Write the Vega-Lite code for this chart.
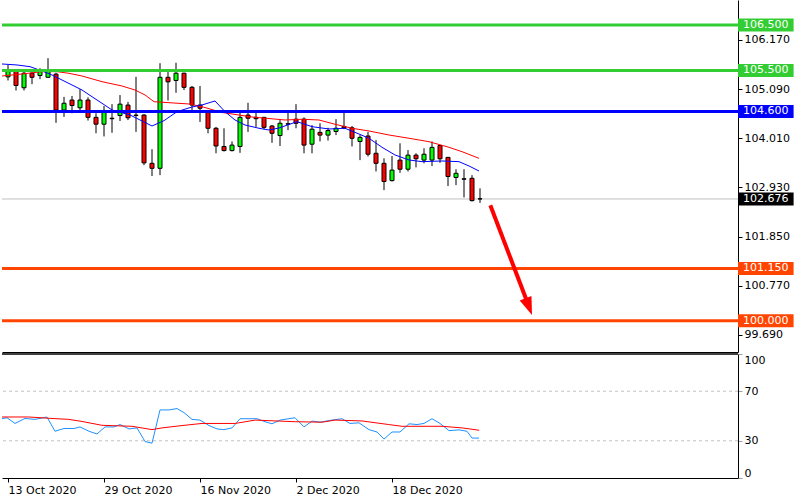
{
  "$schema": "https://vega.github.io/schema/vega-lite/v6.json",
  "padding": 0,
  "background": "white",
  "bounds": "flush",
  "spacing": 2,
  "config": {
    "view": {"stroke": null},
    "scale": {"continuousPadding": 0},
    "axis": {"grid": false, "labelFont": "DejaVu Sans", "labelFontSize": 11, "labelColor": "#000000", "domainColor": "#000000", "tickColor": "#000000", "title": null}
  },
  "datasets": {
    "candles": [
      {"i":0,"o":105.36,"h":105.62,"l":105.28,"c":105.49},
      {"i":1,"o":105.49,"h":105.51,"l":105.06,"c":105.17},
      {"i":2,"o":105.12,"h":105.49,"l":105.06,"c":105.44},
      {"i":3,"o":105.44,"h":105.49,"l":105.20,"c":105.35},
      {"i":4,"o":105.39,"h":105.55,"l":105.31,"c":105.49},
      {"i":5,"o":105.35,"h":105.77,"l":105.35,"c":105.49},
      {"i":6,"o":105.42,"h":105.45,"l":104.35,"c":104.63},
      {"i":7,"o":104.63,"h":104.92,"l":104.48,"c":104.78},
      {"i":8,"o":104.85,"h":104.94,"l":104.56,"c":104.73},
      {"i":9,"o":104.68,"h":105.09,"l":104.63,"c":104.85},
      {"i":10,"o":104.85,"h":104.91,"l":104.40,"c":104.47},
      {"i":11,"o":104.47,"h":104.56,"l":104.12,"c":104.32},
      {"i":12,"o":104.32,"h":104.72,"l":104.05,"c":104.62},
      {"i":13,"o":104.45,"h":104.76,"l":104.13,"c":104.44},
      {"i":14,"o":104.51,"h":104.96,"l":104.39,"c":104.76},
      {"i":15,"o":104.74,"h":104.81,"l":104.41,"c":104.46},
      {"i":16,"o":104.52,"h":105.36,"l":104.15,"c":104.51},
      {"i":17,"o":104.52,"h":104.54,"l":103.42,"c":103.47},
      {"i":18,"o":103.46,"h":103.77,"l":103.18,"c":103.35},
      {"i":19,"o":103.35,"h":105.66,"l":103.20,"c":105.35},
      {"i":20,"o":105.35,"h":105.47,"l":104.84,"c":105.25},
      {"i":21,"o":105.28,"h":105.67,"l":105.01,"c":105.44},
      {"i":22,"o":105.44,"h":105.45,"l":105.07,"c":105.13},
      {"i":23,"o":105.13,"h":105.16,"l":104.59,"c":104.74},
      {"i":24,"o":104.74,"h":105.16,"l":104.37,"c":104.67},
      {"i":25,"o":104.61,"h":104.63,"l":104.12,"c":104.23},
      {"i":26,"o":104.23,"h":104.26,"l":103.68,"c":103.84},
      {"i":27,"o":103.83,"h":104.23,"l":103.72,"c":103.74},
      {"i":28,"o":103.74,"h":103.94,"l":103.72,"c":103.86},
      {"i":29,"o":103.83,"h":104.59,"l":103.69,"c":104.47},
      {"i":30,"o":104.52,"h":104.79,"l":104.15,"c":104.45},
      {"i":31,"o":104.47,"h":104.59,"l":104.26,"c":104.44},
      {"i":32,"o":104.47,"h":104.48,"l":104.21,"c":104.25},
      {"i":33,"o":104.28,"h":104.30,"l":103.91,"c":104.12},
      {"i":34,"o":104.07,"h":104.41,"l":103.84,"c":104.34},
      {"i":35,"o":104.33,"h":104.59,"l":104.19,"c":104.32},
      {"i":36,"o":104.43,"h":104.76,"l":104.23,"c":104.34},
      {"i":37,"o":104.43,"h":104.47,"l":103.68,"c":103.86},
      {"i":38,"o":103.88,"h":104.30,"l":103.68,"c":104.21},
      {"i":39,"o":104.14,"h":104.34,"l":103.94,"c":104.08},
      {"i":40,"o":104.08,"h":104.24,"l":103.96,"c":104.18},
      {"i":41,"o":104.16,"h":104.43,"l":104.08,"c":104.23},
      {"i":42,"o":104.27,"h":104.59,"l":104.21,"c":104.24},
      {"i":43,"o":104.24,"h":104.28,"l":103.83,"c":104.01},
      {"i":44,"o":103.94,"h":104.08,"l":103.53,"c":104.03},
      {"i":45,"o":104.06,"h":104.15,"l":103.61,"c":103.66},
      {"i":46,"o":103.68,"h":103.97,"l":103.28,"c":103.46},
      {"i":47,"o":103.46,"h":103.57,"l":102.87,"c":103.06},
      {"i":48,"o":103.08,"h":103.62,"l":103.06,"c":103.31},
      {"i":49,"o":103.53,"h":103.90,"l":103.25,"c":103.33},
      {"i":50,"o":103.33,"h":103.75,"l":103.28,"c":103.64},
      {"i":51,"o":103.64,"h":103.68,"l":103.37,"c":103.56},
      {"i":52,"o":103.53,"h":103.79,"l":103.46,"c":103.66},
      {"i":53,"o":103.53,"h":103.94,"l":103.40,"c":103.81},
      {"i":54,"o":103.85,"h":103.86,"l":103.47,"c":103.56},
      {"i":55,"o":103.59,"h":103.60,"l":102.96,"c":103.17},
      {"i":56,"o":103.15,"h":103.33,"l":102.98,"c":103.24},
      {"i":57,"o":103.12,"h":103.33,"l":102.71,"c":103.11},
      {"i":58,"o":103.13,"h":103.20,"l":102.62,"c":102.64},
      {"i":59,"o":102.68,"h":102.91,"l":102.59,"c":102.676}
    ],
    "maFast": [
      {"i":-0.75,"v":105.643},{"i":1.125,"v":105.621},{"i":2.75,"v":105.584},{"i":4.25,"v":105.489},
      {"i":5.5,"v":105.401},{"i":6.75,"v":105.291},{"i":8,"v":105.181},{"i":9.25,"v":105.071},
      {"i":10.5,"v":104.924},{"i":11.75,"v":104.779},{"i":13,"v":104.632},{"i":15.25,"v":104.522},
      {"i":18,"v":104.28},{"i":19.5,"v":104.397},{"i":21.125,"v":104.595},{"i":23,"v":104.698},
      {"i":24.25,"v":104.742},{"i":25.875,"v":104.83},{"i":27.125,"v":104.595},{"i":28.375,"v":104.412},
      {"i":29.625,"v":104.302},{"i":31.375,"v":104.23},{"i":32.625,"v":104.192},{"i":33.875,"v":104.236},
      {"i":36.125,"v":104.375},{"i":38,"v":104.265},{"i":40.125,"v":104.214},{"i":42.125,"v":104.23},
      {"i":43.875,"v":104.104},{"i":45.125,"v":104.01},{"i":46.75,"v":103.812},{"i":48.375,"v":103.643},
      {"i":50.125,"v":103.533},{"i":51.75,"v":103.496},{"i":54.25,"v":103.511},{"i":56.375,"v":103.496},
      {"i":57.625,"v":103.401},{"i":58.875,"v":103.291}
    ],
    "maSlow": [
      {"i":-0.75,"v":105.379},{"i":1.75,"v":105.423},{"i":4.25,"v":105.474},{"i":6.125,"v":105.474},
      {"i":7.625,"v":105.438},{"i":9.25,"v":105.379},{"i":11.75,"v":105.254},{"i":14.25,"v":105.159},
      {"i":15.875,"v":105.071},{"i":17.125,"v":104.962},{"i":18.25,"v":104.814},{"i":20.125,"v":104.792},
      {"i":22.625,"v":104.764},{"i":24.25,"v":104.704},{"i":26.75,"v":104.577},{"i":30.5,"v":104.478},
      {"i":34.625,"v":104.412},{"i":36.75,"v":104.428},{"i":38.875,"v":104.412},{"i":40.875,"v":104.318},
      {"i":43,"v":104.23},{"i":45.125,"v":104.17},{"i":47.625,"v":104.082},{"i":50.125,"v":104.01},
      {"i":52.625,"v":103.935},{"i":55.125,"v":103.812},{"i":56.75,"v":103.715},{"i":58.875,"v":103.57}
    ],
    "levels": [
      {"level":106.5,"kind":"resistance"},
      {"level":105.5,"kind":"resistance"},
      {"level":104.6,"kind":"pivot"},
      {"level":101.15,"kind":"support"},
      {"level":100.0,"kind":"support"}
    ],
    "price": [{"level":102.676,"kind":"price"}],
    "arrow": [{"i":60.29,"p":102.54,"i2":64.8,"p2":100.46,"hi":65.1,"hp":100.31}],
    "oscFast": [
      {"i":-0.75,"v":47.8},{"i":-0.125,"v":48.6},{"i":0.875,"v":44},{"i":2.125,"v":48},{"i":3.375,"v":47.3},
      {"i":4.875,"v":49.2},{"i":5.875,"v":37.7},{"i":7,"v":39.9},{"i":8.25,"v":39.9},{"i":9,"v":41.2},
      {"i":10.125,"v":37.7},{"i":11.125,"v":35.5},{"i":12.125,"v":41.2},{"i":13.25,"v":41.2},{"i":14,"v":43.1},
      {"i":15.125,"v":39.6},{"i":16.125,"v":40.4},{"i":17.125,"v":29.4},{"i":18,"v":28.1},{"i":19,"v":54.9},
      {"i":20.125,"v":54.9},{"i":21.125,"v":56},{"i":22,"v":52.7},{"i":23,"v":47.3},{"i":24,"v":46.7},
      {"i":25.125,"v":42.3},{"i":26.125,"v":39.6},{"i":27,"v":39},{"i":28,"v":40.4},{"i":29,"v":47.8},
      {"i":31.125,"v":47.8},{"i":32.125,"v":45.4},{"i":33,"v":43.7},{"i":34,"v":46.7},{"i":35.875,"v":48.6},
      {"i":37,"v":41.2},{"i":38,"v":45.9},{"i":39,"v":45},{"i":40.5,"v":46.7},{"i":41.75,"v":47.8},
      {"i":42.75,"v":44},{"i":43.875,"v":44.5},{"i":45.125,"v":39},{"i":46.125,"v":37.1},{"i":47,"v":31.4},
      {"i":48,"v":37.1},{"i":49,"v":37.1},{"i":50.125,"v":43.7},{"i":51.125,"v":43.1},{"i":52,"v":44},
      {"i":53,"v":47.8},{"i":54,"v":44},{"i":55.125,"v":38.2},{"i":56.375,"v":38.8},{"i":57.375,"v":37.7},
      {"i":58,"v":32.2},{"i":58.875,"v":32.2}
    ],
    "oscSlow": [
      {"i":-0.75,"v":49.2},{"i":2.6,"v":49.2},{"i":5.5,"v":48},{"i":7.6,"v":47.3},{"i":9.25,"v":45.6},
      {"i":11.75,"v":42.5},{"i":15.5,"v":41.7},{"i":18,"v":39},{"i":19.25,"v":40.4},{"i":21.75,"v":42.3},
      {"i":24.25,"v":44},{"i":28.4,"v":44},{"i":30.9,"v":46.7},{"i":33.9,"v":45.9},{"i":35.9,"v":45.4},
      {"i":39.25,"v":45},{"i":40.9,"v":46.7},{"i":44.25,"v":46},{"i":47.6,"v":43.1},{"i":49.25,"v":41.7},
      {"i":54.25,"v":41.7},{"i":56.75,"v":40.4},{"i":58.9,"v":38.5}
    ],
    "oscLevels": [{"lvl":70},{"lvl":30}]
  },
  "resolve": {"scale": {"y": "independent"}},
  "vconcat": [
    {
      "width": 736,
      "height": 352,
      "layer": [
        {
          "data": {"name": "price"},
          "mark": {"type": "rule", "color": "#C0C0C0", "strokeWidth": 1},
          "encoding": {"y": {"field": "level", "type": "quantitative"}}
        },
        {
          "data": {"name": "candles"},
          "mark": {"type": "rule", "color": "#000000", "strokeWidth": 1},
          "encoding": {
            "x": {"field": "i", "type": "quantitative", "scale": {"domain": [-0.75, 91.25], "nice": false, "zero": false, "padding": 0},
                  "axis": {"orient": "bottom", "labels": false, "ticks": false, "domain": true, "title": null}},
            "y": {"field": "l", "type": "quantitative", "scale": {"domain": [99.313, 107.049], "nice": false, "zero": false, "padding": 0},
                  "axis": {"orient": "right", "values": [106.17, 105.09, 104.01, 102.93, 101.85, 100.77, 99.69], "format": ".3f", "tickSize": 4, "labelPadding": 2, "title": null}},
            "y2": {"field": "h"}
          }
        },
        {
          "data": {"name": "candles"},
          "mark": {"type": "bar", "size": 4, "stroke": "#000000", "strokeWidth": 1},
          "encoding": {
            "x": {"field": "i", "type": "quantitative"},
            "y": {"field": "o", "type": "quantitative"},
            "y2": {"field": "c"},
            "fill": {"condition": {"test": "datum.c < datum.o", "value": "#FF0000"}, "value": "#00FF00"}
          }
        },
        {
          "data": {"name": "maSlow"},
          "mark": {"type": "line", "color": "#FF0000", "strokeWidth": 1},
          "encoding": {"x": {"field": "i", "type": "quantitative"}, "y": {"field": "v", "type": "quantitative"}}
        },
        {
          "data": {"name": "maFast"},
          "mark": {"type": "line", "color": "#0000FF", "strokeWidth": 1},
          "encoding": {"x": {"field": "i", "type": "quantitative"}, "y": {"field": "v", "type": "quantitative"}}
        },
        {
          "data": {"name": "levels"},
          "mark": {"type": "rule", "strokeWidth": 3},
          "encoding": {
            "y": {"field": "level", "type": "quantitative"},
            "color": {"field": "kind", "type": "nominal", "legend": null,
                      "scale": {"domain": ["resistance", "pivot", "support", "price"], "range": ["#32CD32", "#0000FF", "#FF4500", "#000000"]}}
          }
        },
        {
          "data": {"name": "arrow"},
          "mark": {"type": "rule", "color": "#FF0000", "strokeWidth": 4},
          "encoding": {
            "x": {"field": "i", "type": "quantitative"},
            "y": {"field": "p", "type": "quantitative"},
            "x2": {"field": "i2"},
            "y2": {"field": "p2"}
          }
        },
        {
          "data": {"name": "arrow"},
          "mark": {"type": "point", "shape": "M0,1L-0.7,-1L0.7,-1Z", "size": 324, "angle": -21, "filled": true, "color": "#FF0000", "opacity": 1, "strokeWidth": 0},
          "encoding": {
            "x": {"field": "hi", "type": "quantitative"},
            "y": {"field": "hp", "type": "quantitative"}
          }
        },
        {
          "data": {"name": "levels"},
          "mark": {"type": "bar", "orient": "horizontal", "size": 13},
          "encoding": {
            "x": {"datum": 91.25, "type": "quantitative"},
            "x2": {"datum": 98.2},
            "y": {"field": "level", "type": "quantitative"},
            "color": {"field": "kind", "type": "nominal", "legend": null}
          }
        },
        {
          "data": {"name": "price"},
          "mark": {"type": "bar", "orient": "horizontal", "size": 13},
          "encoding": {
            "x": {"datum": 91.25, "type": "quantitative"},
            "x2": {"datum": 98.2},
            "y": {"field": "level", "type": "quantitative"},
            "color": {"field": "kind", "type": "nominal", "legend": null}
          }
        },
        {
          "data": {"name": "levels"},
          "mark": {"type": "text", "color": "#FFFFFF", "font": "DejaVu Sans", "fontSize": 11, "align": "center", "baseline": "middle"},
          "encoding": {
            "x": {"datum": 94.72, "type": "quantitative"},
            "y": {"field": "level", "type": "quantitative"},
            "text": {"field": "level", "type": "quantitative", "format": ".3f"}
          }
        },
        {
          "data": {"name": "price"},
          "mark": {"type": "text", "color": "#FFFFFF", "font": "DejaVu Sans", "fontSize": 11, "align": "center", "baseline": "middle"},
          "encoding": {
            "x": {"datum": 94.72, "type": "quantitative"},
            "y": {"field": "level", "type": "quantitative"},
            "text": {"field": "level", "type": "quantitative", "format": ".3f"}
          }
        }
      ]
    },
    {
      "width": 736,
      "height": 124,
      "layer": [
        {
          "data": {"name": "oscLevels"},
          "mark": {"type": "rule", "color": "#C0C0C0", "strokeWidth": 1, "strokeDash": [3, 3]},
          "encoding": {"y": {"field": "lvl", "type": "quantitative"}}
        },
        {
          "data": {"name": "oscFast"},
          "mark": {"type": "line", "color": "#1E90FF", "strokeWidth": 1},
          "encoding": {
            "x": {"field": "i", "type": "quantitative", "scale": {"domain": [-0.75, 91.25], "nice": false, "zero": false, "padding": 0},
                  "axis": {"orient": "bottom", "values": [0, 12, 24, 36, 48], "tickSize": 4, "labelPadding": 2, "labelAlign": "left", "labelBound": false, "labelOverlap": false, "title": null,
                           "labelExpr": "datum.value == 0 ? '13 Oct 2020' : datum.value == 12 ? '29 Oct 2020' : datum.value == 24 ? '16 Nov 2020' : datum.value == 36 ? '2 Dec 2020' : '18 Dec 2020'"}},
            "y": {"field": "v", "type": "quantitative", "scale": {"domain": [0, 100], "nice": false, "zero": false, "padding": 0},
                  "axis": {"orient": "right", "values": [0, 30, 70, 100], "tickSize": 4, "labelPadding": 2, "labelFlush": true, "tickColor": "#A0A0A0", "title": null}}
          }
        },
        {
          "data": {"name": "oscSlow"},
          "mark": {"type": "line", "color": "#FF0000", "strokeWidth": 1},
          "encoding": {"x": {"field": "i", "type": "quantitative"}, "y": {"field": "v", "type": "quantitative"}}
        },
        {
          "data": {"name": "oscLevels"},
          "mark": {"type": "rule", "color": "#000000", "strokeWidth": 1},
          "encoding": {"y": {"datum": 100}}
        }
      ]
    }
  ]
}
